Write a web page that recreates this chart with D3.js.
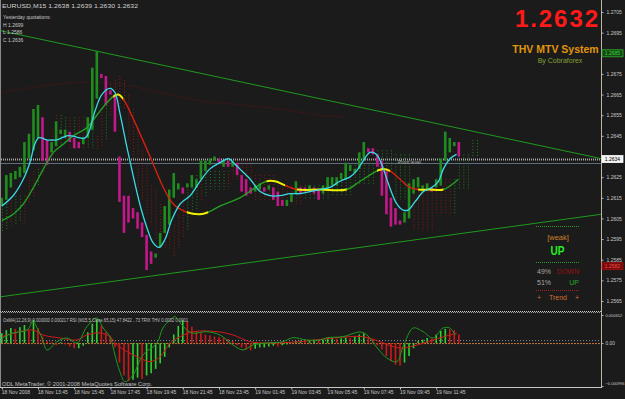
<!DOCTYPE html>
<html><head><meta charset="utf-8">
<script src="https://cdn.jsdelivr.net/npm/d3@7"></script>
<style>
html,body{margin:0;padding:0;background:#1b1b1b;overflow:hidden;}
svg{display:block;}
text{font-family:"Liberation Sans",Arial,sans-serif;}
</style></head><body>
<svg id="c" width="625" height="399"></svg>
<script>
// ---------- DATA ----------
const barOpen = [1.2611,1.2614,1.2620,1.2624,1.2625,1.2627,1.2634,1.2638,1.2644,1.2654,1.2643,1.2637,1.2640,1.2646,1.2644,1.2647,1.2644,1.2642,1.2641,1.2644,
1.2648,1.2663,1.2675,1.2674,1.2667,1.2665,1.2635,1.2616,1.2616,1.2610,1.2608,1.2603,1.2597,1.2589,1.2586,1.2591,1.2598,1.2602,1.2615,1.2619,
1.2620,1.2620,1.2620,1.2620,1.2624,1.2628,1.2631,1.2633,1.2634,1.2630,1.2633,1.2630,1.2632,1.2626,1.2624,1.2620,1.2618,1.2619,1.2620,1.2619,
1.2620,1.2618,1.2614,1.2611,1.2613,1.2617,1.2620,1.2620,1.2619,1.2620,1.2619,1.2617,1.2619,1.2621,1.2621,1.2624,1.2624,1.2628,1.2627,1.2629,
1.2633,1.2639,1.2639,1.2636,1.2633,1.2628,1.2615,1.2610,1.2604,1.2603,1.2605,1.2617,1.2620,1.2618,1.2619,1.2620,1.2620,1.2621,1.2633,1.2637,
1.2640,1.2642];
const barClose = [1.2615,1.2626,1.2627,1.2628,1.2630,1.2642,1.2646,1.2658,1.2660,1.2633,1.2631,1.2642,1.2652,1.2648,1.2648,1.2642,1.2639,1.2639,1.2644,1.2654,
1.2678,1.2686,1.2673,1.2660,1.2665,1.2647,1.2613,1.2598,1.2603,1.2605,1.2600,1.2596,1.2580,1.2583,1.2588,1.2598,1.2611,1.2619,1.2627,1.2622,
1.2617,1.2622,1.2626,1.2624,1.2633,1.2633,1.2634,1.2635,1.2632,1.2633,1.2630,1.2633,1.2626,1.2618,1.2616,1.2617,1.2621,1.2622,1.2618,1.2621,
1.2614,1.2611,1.2611,1.2614,1.2617,1.2623,1.2617,1.2618,1.2621,1.2617,1.2614,1.2621,1.2625,1.2625,1.2625,1.2627,1.2632,1.2631,1.2629,1.2637,
1.2642,1.2637,1.2636,1.2630,1.2616,1.2607,1.2601,1.2602,1.2602,1.2608,1.2622,1.2624,1.2625,1.2621,1.2622,1.2618,1.2624,1.2634,1.2647,1.2644,
1.2642,1.2635];

// dotted shifted envelope bars
const ghostHi = [1.2614,1.2612,1.2614,1.2616,1.2616,1.2616,1.2625,1.2628,1.2629,1.2638,1.2643,1.2648,1.2655,1.2655,1.2654,1.2654,1.2654,1.2654,1.2654,1.2650,
1.2648,1.2645,1.2658,1.2667,1.2670,1.2672,1.2674,1.2672,1.2665,1.2658,1.2648,1.2638,1.2631,1.2621,1.2619,1.2612,1.2607,1.2604,1.2602,1.2607,
1.2614,1.2619,1.2624,1.2626,1.2626,1.2628,1.2628,1.2628,1.2628,1.2628,1.2628,1.2633,1.2633,1.2633,1.2633,1.2633,1.2626,1.2626,1.2626,1.2626,
1.2626,1.2621,1.2621,1.2621,1.2621,1.2621,1.2621,1.2621,1.2621,1.2621,1.2621,1.2621,1.2621,1.2624,1.2624,1.2624,1.2624,1.2624,1.2631,1.2631,
1.2631,1.2631,1.2631,1.2638,1.2638,1.2638,1.2638,1.2636,1.2636,1.2636,1.2636,1.2621,1.2621,1.2621,1.2621,1.2621,1.2624,1.2624,1.2624,1.2624,
1.2624,1.2636,1.2636,1.2636,1.2643,1.2643];
const ghostLo = [1.2598,1.2599,1.2602,1.2602,1.2604,1.2602,1.2612,1.2616,1.2621,1.2626,1.2631,1.2633,1.2638,1.2639,1.2641,1.2638,1.2638,1.2638,1.2639,1.2639,
1.2639,1.2638,1.2639,1.2643,1.2655,1.2660,1.2658,1.2658,1.2643,1.2631,1.2619,1.2614,1.2607,1.2602,1.2595,1.2592,1.2590,1.2590,1.2587,1.2590,
1.2595,1.2599,1.2607,1.2609,1.2614,1.2616,1.2619,1.2619,1.2619,1.2619,1.2619,1.2624,1.2624,1.2624,1.2624,1.2624,1.2614,1.2614,1.2614,1.2614,
1.2614,1.2612,1.2612,1.2612,1.2612,1.2612,1.2612,1.2614,1.2614,1.2614,1.2614,1.2614,1.2614,1.2616,1.2616,1.2616,1.2616,1.2616,1.2621,1.2621,
1.2621,1.2621,1.2621,1.2628,1.2628,1.2628,1.2628,1.2614,1.2614,1.2614,1.2614,1.2599,1.2599,1.2599,1.2599,1.2599,1.2607,1.2607,1.2607,1.2607,
1.2607,1.2619,1.2619,1.2619,1.2635,1.2635];
const ghostDir = "ggrggrrrgrgrrggrgrrggrrgrrrrrrrrrrrrrrrrrgggrgggggrrrrrrrrrrrrrrrrrggggggggggggggggggggggggrrrrrrrrrggggggggggg";

// fast MA (cyan)
const cyanIdx = [0,2.5,4.75,6.2,7.3,8.1,8.8,9.9,11,12.1,14.3,15.4,17.3,18.4,19.1,20.6,22.1,23.9,25,26.1,27.6,29.1,30.5,32,33.5,34.8,36.1,37.5,39.4,41.6,
43.8,46,48.2,50.1,51.2,52.6,54.9,57.1,59.3,61.5,63.7,65.9,68.1,70.3,72.5,74.7,76.9,78.4,79.9,81.4,82.8,84,85.4,87.3,88.7,89.8,91.3,93.2,95,96.5,97.6,99.1,100.5];
const cyanVal = [1.2611,1.2616,1.2624,1.2632,1.2641,1.2644,1.2644,1.2643,1.2643,1.2643,1.2645,1.2645,1.2644,1.2644,1.2646,1.2657,1.2665,1.2668,1.2666,1.2656,1.2640,1.2625,1.2612,1.2601,1.2593,1.2591,1.2595,1.2604,1.2612,1.2616,
1.2623,1.2629,1.2632,1.2634,1.2632,1.2629,1.2624,1.2618,1.2616,1.2616,1.2617,1.2617,1.2618,1.2619,1.2620,1.2623,1.2625,1.2628,1.2633,1.2637,1.2636,1.2631,1.2622,1.2612,1.2609,1.2609,1.2613,1.2618,1.2620,1.2623,1.2629,1.2634,1.2636];

// slow coloured MA (g = rising, y = flat, r = falling) ; colour applies to segment starting at that point
const mtvIdx = [0,2.5,4.75,7,9.2,11.4,13.6,15.8,18.8,21,23.2,24.6,25.7,26.8,29.1,32.75,35.7,37.9,40.9,43.8,45.6,48.2,52.6,58.5,60.4,62.6,65.2,70.3,76.2,79.2,82.9,84.2,85.8,88,90.2,92,94.6,97.6,100.9];
const mtvVal = [1.2604,1.2607,1.2612,1.2620,1.2629,1.2637,1.2641,1.2645,1.2649,1.2655,1.2661,1.2664,1.2665,1.2663,1.2653,1.2635,1.2620,1.2612,1.2608,1.2607,1.2608,1.2611,1.2615,1.2623,1.2623,1.2621,1.2619,1.2619,1.2619,1.2623,1.2628,1.2629,1.2628,1.2624,1.2620,1.2619,1.2619,1.2619,1.2624];
const mtvCol = "gggggggggggyyrrrrryygggyyryyggyyrrryyg";

// long MA (dark red dotted)
const longIdx = [-0.4,8.4,17.3,26.1,35,43.8,52.6,61.5,70.3,75.8];
const longVal = [1.2666,1.2669,1.2671,1.2670,1.2666,1.2662,1.2660,1.2658,1.2655,1.2654];

// trend lines [barIndex, price]
const trendUpper = [[-0.4,1.2696],[132.4,1.2634]];
const trendLower = [[-0.4,1.2567],[132.4,1.2607]];
const pivotLevel = 1.2634, bidPrice = 1.2632;

// axis
const priceTicks = [1.2705,1.2695,1.2675,1.2665,1.2655,1.2645,1.2625,1.2615,1.2605,1.2595,1.2585,1.2575,1.2565];
const timeTickIdx = [0,8,16,24,32,40,48,56,64,72,80,88,96];
const timeLabels = ["18 Nov 2008","18 Nov 13:45","18 Nov 15:45","18 Nov 17:45","18 Nov 19:45","18 Nov 21:45","18 Nov 23:45","19 Nov 01:45","19 Nov 03:45","19 Nov 05:45","19 Nov 07:45","19 Nov 09:45","19 Nov 11:45"];

// lower panel (x 1e-4)
const osma = [2.3,3.0,3.5,3.3,3.7,4.2,3.0,5.4,3.5,1.5,0.5,0.3,-0.5,0.2,-0.3,-0.8,-1.2,-1.2,-0.6,2.5,
4.5,5.5,4.0,2.5,1.5,-1.0,-4.5,-7.5,-8.8,-8.5,-8.0,-8.3,-7.5,-7.0,-6.0,-4.7,-3.2,-1.0,2.0,4.0,
5.3,5.0,3.8,2.8,2.3,2.0,1.8,1.5,1.4,1.2,1.0,0.5,-0.5,-1.0,-1.5,-1.7,-1.3,-1.0,-1.0,-0.8,
-0.6,-0.8,-0.5,-0.3,0.2,0.5,0.6,0.5,0.7,0.8,0.6,0.8,1.0,1.2,1.0,1.1,1.3,1.2,1.5,2.0,
2.3,1.5,0.8,-0.5,-1.5,-3.0,-4.2,-5.0,-5.2,-4.5,-3.0,-1.2,0.5,0.8,1.2,1.0,2.0,2.8,3.3,3.2,
3.0,2.0];
const sigIdx = [0,4,6.9,9.1,12.9,16.6,18.8,21.7,23.9,25.5,27.7,30.5,32.75,35,37.2,39.4,42.3,47.6,51.1,54.9,58.6,65.9,73.2,79.8,83.6,86.5,88.7,91.8,95.3,99,100.6];
const sigVal = [1.49,2.65,3.04,1.88,1.18,0.72,1.88,2.34,1.49,-0.44,-2.0,-3.46,-4.32,-3.16,0.02,1.49,2.65,2.65,1.88,0.32,0.02,0.32,1.18,1.49,0.32,-0.84,-1.14,-0.44,0.72,1.88,2.34];
const rsiIdx = [0,2.5,5.6,6.9,7.8,8.9,10,12.2,14.4,16.6,18.8,21,22.4,23.9,25,26.1,27.2,29,31.2,34.3,35.6,37.2,38.3,39.8,42,45.3,48.2,51.1,53.3,55.5,58.6,62.1,64.3,67.4,70.3,71.9,75.4,79.2,80.7,83,85.1,87.3,88.7,90.9,93.1,95.3,97.5,99,100.2];
const rsiVal = [1.18,2.34,3.04,4.97,3.5,1.18,-1.6,0.32,1.18,0.02,3.81,5.83,3.5,1.49,-2.76,-6.64,-8.96,-7.4,-2.76,0.02,3.5,5.36,6.13,4.2,2.34,2.65,1.88,-0.44,-1.6,-0.44,0.02,0.32,1.25,0.72,0.72,1.25,1.49,2.58,1.88,-1.14,-3.46,-4.32,-0.84,3.5,2.65,1.18,3.5,3.5,1.88];
const indTicks = [0.000652,0,-0.000996];

// ---------- DRAW ----------
const svg = d3.select("#c");
svg.append("rect").attr("width",625).attr("height",399).attr("fill","#1b1b1b");
const defs = svg.append("defs");
defs.append("clipPath").attr("id","mainClip").append("rect").attr("x",1).attr("y",0).attr("width",600).attr("height",311);
defs.append("clipPath").attr("id","indClip").append("rect").attr("x",1).attr("y",314).attr("width",600).attr("height",73);

const x = d3.scaleLinear().domain([0,101]).range([1.8,1.8+4.525*101]);
const y = d3.scaleLinear().domain([1.2565,1.2705]).range([301,12]);
const yi = d3.scaleLinear().domain([-0.000996,0.000652]).range([386,315]);

const main = svg.append("g").attr("clip-path","url(#mainClip)");

// ghost dotted bars
main.append("g").selectAll("line").data(ghostHi).join("line")
  .attr("x1",(d,i)=>x(i)+0.5).attr("x2",(d,i)=>x(i)+0.5)
  .attr("y1",d=>y(d)).attr("y2",(d,i)=>y(ghostLo[i]))
  .attr("stroke",(d,i)=>ghostDir[i]==="g"?"#1f7f1f":"#8a1c14")
  .attr("stroke-width",1).attr("stroke-dasharray","1,2");

// long MA dotted
main.append("path").datum(longIdx.map((d,i)=>[d,longVal[i]]))
  .attr("d",d3.line().x(d=>x(d[0])).y(d=>y(d[1])).curve(d3.curveCatmullRom))
  .attr("fill","none").attr("stroke","#6e1010").attr("stroke-width",1).attr("stroke-dasharray","1,2");

// pivot + bid lines
main.append("line").attr("x1",1).attr("x2",601).attr("y1",Math.round(y(pivotLevel))+0.5).attr("y2",Math.round(y(pivotLevel))+0.5)
  .attr("stroke","#a8a8a8").attr("stroke-width",2).attr("stroke-dasharray","1,1");
main.append("line").attr("x1",1).attr("x2",601).attr("y1",Math.round(y(bidPrice))+0.5).attr("y2",Math.round(y(bidPrice))+0.5)
  .attr("stroke","#5c6e80").attr("stroke-width",1);
main.append("text").attr("x",398).attr("y",y(pivotLevel)+5.5).attr("font-size",5).attr("fill","#b0b0b0").text("Pivot level");

// trend lines
[trendUpper,trendLower].forEach(t=>{
  main.append("line").attr("x1",x(t[0][0])).attr("y1",y(t[0][1])).attr("x2",x(t[1][0])).attr("y2",y(t[1][1]))
    .attr("stroke","#1f9a1f").attr("stroke-width",1);
});

// bars
main.append("g").selectAll("rect").data(barOpen).join("rect")
  .attr("x",(d,i)=>x(i)-1.3).attr("width",2.6)
  .attr("y",(d,i)=>y(Math.max(d,barClose[i])))
  .attr("height",(d,i)=>Math.max(1.2,Math.abs(y(d)-y(barClose[i]))))
  .attr("fill",(d,i)=>barClose[i]>=d?"#1f8c1f":"#c2188a");

// coloured MA via clipped copies
const mtvPts = mtvIdx.map((d,i)=>[d,mtvVal[i]]);
const mtvLine = d3.line().x(d=>x(d[0])).y(d=>y(d[1])).curve(d3.curveCatmullRom);
const colMap = {g:"#22a022",y:"#f0f000",r:"#d8200e"};
for(let k=0;k<mtvPts.length-1;k++){
  const id="mtv"+k;
  const x0=x(mtvIdx[k]), x1=x(mtvIdx[k+1]);
  defs.append("clipPath").attr("id",id).append("rect").attr("x",x0).attr("y",0).attr("width",x1-x0+0.3).attr("height",311);
  main.append("path").datum(mtvPts).attr("d",mtvLine).attr("clip-path",`url(#${id})`)
    .attr("fill","none").attr("stroke",colMap[mtvCol[k]]).attr("stroke-width",mtvCol[k]==="y"?2:1.4);
}

// cyan line
main.append("path").datum(cyanIdx.map((d,i)=>[d,cyanVal[i]]))
  .attr("d",d3.line().x(d=>x(d[0])).y(d=>y(d[1])).curve(d3.curveCatmullRom))
  .attr("fill","none").attr("stroke","#3adbe8").attr("stroke-width",1.3);

// ---------- frame ----------
const frameCol="#bdb5a6";
svg.append("line").attr("x1",601.5).attr("x2",601.5).attr("y1",0).attr("y2",388).attr("stroke",frameCol);
svg.append("line").attr("x1",0.5).attr("x2",0.5).attr("y1",0).attr("y2",388).attr("stroke","#8a8a8a");
svg.append("line").attr("x1",0).attr("x2",602).attr("y1",311.5).attr("y2",311.5).attr("stroke","#c8c8c8").attr("stroke-dasharray","1,1");
svg.append("line").attr("x1",0).attr("x2",602).attr("y1",312.5).attr("y2",312.5).attr("stroke","#9a9a9a").attr("stroke-dasharray","1,1").attr("stroke-dashoffset",1);
svg.append("line").attr("x1",0).attr("x2",602).attr("y1",387.5).attr("y2",387.5).attr("stroke","#c8c8c8");

// price axis
const pAxis = svg.append("g").attr("transform","translate(601.5,0)")
  .call(d3.axisRight(y).tickValues(priceTicks).tickFormat(d3.format(".4f")).tickSize(2).tickPadding(3));
pAxis.select(".domain").remove();
pAxis.selectAll("line").attr("stroke",frameCol);
pAxis.selectAll("text").attr("font-size",5).attr("fill","#c8c8c8").attr("font-family","Liberation Sans, Arial, sans-serif");

// price boxes
function box(p,dy,fill,stroke,tcol,label){
  const yy=y(p)+dy;
  svg.append("rect").attr("x",602).attr("y",yy-3.5).attr("width",21).attr("height",7).attr("fill",fill).attr("stroke",stroke).attr("stroke-width",0.8);
  svg.append("text").attr("x",612.5).attr("y",yy+1.8).attr("text-anchor","middle").attr("font-size",5).attr("fill",tcol).text(label);
}
box(1.2685,0,"#134a13","#2fb02f","#3fd03f","1.2685");
box(pivotLevel,0.5,"#f2f2f2","#ffffff","#000000","1.2634");
box(1.2582,0.3,"#7d0a0a","#a01010","#e05050","1.2582");

// time axis
const tAxis = svg.append("g").attr("transform","translate(0,387.5)")
  .call(d3.axisBottom(x).tickValues(timeTickIdx).tickFormat((d,i)=>timeLabels[i]).tickSize(2).tickPadding(1));
tAxis.select(".domain").remove();
tAxis.selectAll("line").attr("stroke","#c8c8c8");
tAxis.selectAll("text").attr("font-size",5).attr("fill","#c8c8c8").attr("text-anchor","start").attr("dx",-0.5).attr("font-family","Liberation Sans, Arial, sans-serif");

// ---------- indicator panel ----------
const ind = svg.append("g").attr("clip-path","url(#indClip)");
ind.append("line").attr("x1",1).attr("x2",601).attr("y1",yi(0)-2.5).attr("y2",yi(0)-2.5).attr("stroke","#8090a0").attr("stroke-dasharray","1,2");
ind.append("line").attr("x1",1).attr("x2",601).attr("y1",yi(0)+0.5).attr("y2",yi(0)+0.5).attr("stroke","#c87830").attr("stroke-dasharray","2,1");
ind.append("g").selectAll("rect").data(osma).join("rect")
  .attr("x",(d,i)=>x(i)-0.8).attr("width",1.6)
  .attr("y",d=>yi(Math.max(0,d*1e-4)))
  .attr("height",d=>Math.abs(yi(d*1e-4)-yi(0)))
  .attr("fill",(d,i)=>(i===0||d>=osma[i-1])?"#30d030":"#d01818");
ind.append("path").datum(sigIdx.map((d,i)=>[d,sigVal[i]]))
  .attr("d",d3.line().x(d=>x(d[0])).y(d=>yi(d[1]*1e-4)).curve(d3.curveCatmullRom))
  .attr("fill","none").attr("stroke","#d01a1a").attr("stroke-width",1);
ind.append("path").datum(rsiIdx.map((d,i)=>[d,rsiVal[i]]))
  .attr("d",d3.line().x(d=>x(d[0])).y(d=>yi(d[1]*1e-4)).curve(d3.curveCatmullRom))
  .attr("fill","none").attr("stroke","#1e9a1e").attr("stroke-width",1);

const iAxis = svg.append("g").attr("transform","translate(601.5,0)")
  .call(d3.axisRight(yi).tickValues(indTicks).tickFormat(d=>d===0?"0.00":d3.format(".6f")(d)).tickSize(2).tickPadding(2));
iAxis.select(".domain").remove();
iAxis.selectAll("line").attr("stroke",frameCol);
iAxis.selectAll("text").attr("fill","#c8c8c8").attr("font-family","Liberation Sans, Arial, sans-serif")
  .attr("font-size",d=>d===0?4.8:4)
  .attr("dy",d=>d<0?"-0.4em":"0.32em");

svg.append("text").attr("x",3).attr("y",321.5).attr("font-size",5).attr("fill","#c0c0c0")
  .attr("textLength",185).attr("lengthAdjust","spacingAndGlyphs")
  .text("OsMA(12,26,9) 0.000000 0.000217  RSI (M15,5,Close,65,15) 47.8422 ..73  TRIX THV 0.0002 0.0001");
svg.append("text").attr("x",2).attr("y",385.5).attr("font-size",5).attr("fill","#c0c0c0")
  .attr("textLength",150).attr("lengthAdjust","spacingAndGlyphs")
  .text("ODL MetaTrader, © 2001-2008 MetaQuotes Software Corp.");

// ---------- header texts ----------
svg.append("text").attr("x",2).attr("y",8).attr("font-size",6).attr("fill","#d0d0d0")
  .attr("textLength",136).attr("lengthAdjust","spacingAndGlyphs").text("EURUSD,M15  1.2638 1.2639 1.2630 1.2632");
const yq = ["Yesterday quotations:","H 1.2699","L 1.2586","C 1.2636"];
const yqY = [18.5,26.5,34,41.5];
yq.forEach((t,i)=>svg.append("text").attr("x",3).attr("y",yqY[i]).attr("font-size",5).attr("fill","#c8c8c8").text(t));

svg.append("text").attr("x",598).attr("y",27).attr("text-anchor","end").attr("font-size",24).attr("font-weight","bold")
  .attr("fill","#ff1a1a").attr("textLength",83).attr("lengthAdjust","spacing").text("1.2632");
svg.append("text").attr("x",555.5).attr("y",52.5).attr("text-anchor","middle").attr("font-size",10.5).attr("font-weight","bold")
  .attr("fill","#e0950c").text("THV MTV System");
svg.append("text").attr("x",560).attr("y",63).attr("text-anchor","middle").attr("font-size",7).attr("fill","#86a034").text("By Cobraforex");

// ---------- signal legend ----------
const lg = svg.append("g");
[[226.5,"#2a9a2a"],[262.5,"#2a9a2a"],[290.5,"#a02020"]].forEach(d=>{
  lg.append("line").attr("x1",536).attr("x2",580).attr("y1",d[0]).attr("y2",d[0]).attr("stroke",d[1]).attr("stroke-dasharray","1,1");
});
lg.append("text").attr("x",558).attr("y",239.5).attr("text-anchor","middle").attr("font-size",7.5).attr("fill","#c8822a").text("[weak]");
lg.append("text").attr("x",557.5).attr("y",255).attr("text-anchor","middle").attr("font-size",13).attr("font-weight","bold")
  .attr("fill","#22ee22").attr("textLength",14).attr("lengthAdjust","spacingAndGlyphs").text("UP");
lg.append("text").attr("x",537).attr("y",274).attr("font-size",7).attr("fill","#a8a8a8").text("49%");
lg.append("text").attr("x",579).attr("y",274).attr("text-anchor","end").attr("font-size",7).attr("fill","#9a1212").text("DOWN");
lg.append("text").attr("x",537).attr("y",285).attr("font-size",7).attr("fill","#a8a8a8").text("51%");
lg.append("text").attr("x",579).attr("y",285).attr("text-anchor","end").attr("font-size",7).attr("fill","#2aaa2a").text("UP");
lg.append("text").attr("x",537).attr("y",300).attr("font-size",7).attr("fill","#d07030").text("+");
lg.append("text").attr("x",558).attr("y",300).attr("text-anchor","middle").attr("font-size",7).attr("fill","#d07030").text("Trend");
lg.append("text").attr("x",579).attr("y",300).attr("text-anchor","end").attr("font-size",7).attr("fill","#d07030").text("+");
</script>
</body></html>
